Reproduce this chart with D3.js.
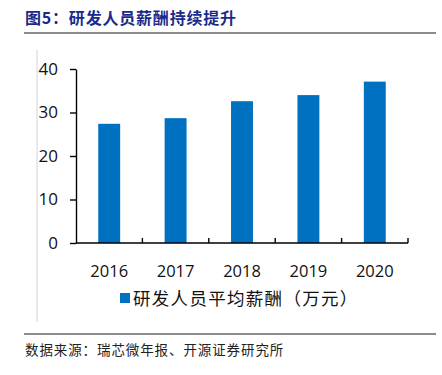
<!DOCTYPE html>
<html>
<head>
<meta charset="utf-8">
<script src="https://cdn.jsdelivr.net/npm/d3@7"></script>
<style>
  body { margin: 0; background: #fff; }
  svg { display: block; }
</style>
</head>
<body>
<svg width="442" height="375"></svg>
<script>
// chart data
const years = ["2016", "2017", "2018", "2019", "2020"];
const salary = [27.4, 28.7, 32.6, 34.0, 37.1];
const yTicks = [0, 10, 20, 30, 40];
const seriesName = "研发人员平均薪酬（万元）";

const svg = d3.select("svg");
const cjk = "'Noto Sans CJK SC', sans-serif";
const num = "'Open Sans', sans-serif";

// title + rules
svg.append("text")
    .attr("x", 25).attr("y", 24)
    .style("font", "bold 16px " + cjk)
    .style("letter-spacing", "0.8px")
    .attr("fill", "#1b2a8a")
    .text("图5：研发人员薪酬持续提升");

svg.append("line")
    .attr("x1", 24).attr("x2", 436).attr("y1", 33).attr("y2", 33)
    .attr("stroke", "#8c8c8c").attr("stroke-width", 2);
svg.append("line")
    .attr("x1", 24).attr("x2", 436).attr("y1", 334).attr("y2", 334)
    .attr("stroke", "#8c8c8c").attr("stroke-width", 2);

// faint frame line on the left
svg.append("line")
    .attr("x1", 37).attr("x2", 37).attr("y1", 50).attr("y2", 322)
    .attr("stroke", "#d4d4d4").attr("stroke-width", 1);

// scales
const x = d3.scaleBand()
    .domain(years)
    .range([76, 408])
    .paddingInner(0.67)
    .paddingOuter(0.335);

const y = d3.scaleLinear()
    .domain([0, 40])
    .range([243, 69]);

// bars
svg.append("g")
    .selectAll("rect")
    .data(years)
    .join("rect")
    .attr("x", d => x(d))
    .attr("width", x.bandwidth())
    .attr("y", (d, i) => y(salary[i]))
    .attr("height", (d, i) => y(0) - y(salary[i]))
    .attr("fill", "#0070c0");

// y axis
const yAxis = svg.append("g")
    .attr("transform", "translate(76,0)")
    .call(d3.axisLeft(y).tickValues(yTicks).tickSize(6).tickSizeOuter(0).tickPadding(12));
yAxis.select(".domain").attr("stroke", "#000").attr("stroke-width", 1.4);
yAxis.selectAll(".tick line").attr("stroke", "#000").attr("stroke-width", 1.4);
yAxis.selectAll("text")
    .style("font", "17px " + num)
    .attr("fill", "#111");

// x axis
const xAxis = svg.append("g")
    .attr("transform", "translate(0,243)")
    .call(d3.axisBottom(x).tickSize(0).tickSizeOuter(0));
xAxis.select(".domain").remove();
xAxis.selectAll("text")
    .attr("y", 34).attr("dy", 0)
    .style("font", "16.5px " + num)
    .attr("fill", "#111");

svg.append("line")
    .attr("x1", 76).attr("x2", 408).attr("y1", 243).attr("y2", 243)
    .attr("stroke", "#000").attr("stroke-width", 1.4);

// inward ticks at category boundaries
const step = x.step();
svg.append("g")
    .selectAll("line")
    .data(d3.range(1, years.length + 1))
    .join("line")
    .attr("x1", i => 76 + i * step).attr("x2", i => 76 + i * step)
    .attr("y1", 243).attr("y2", 238)
    .attr("stroke", "#000").attr("stroke-width", 1.4);

// legend
svg.append("rect")
    .attr("x", 120).attr("y", 293)
    .attr("width", 10).attr("height", 10)
    .attr("fill", "#0070c0");
svg.append("text")
    .attr("x", 133).attr("y", 305)
    .style("font", "17.5px " + cjk)
    .style("letter-spacing", "1.3px")
    .attr("fill", "#111")
    .text(seriesName);

// source note
svg.append("text")
    .attr("x", 25).attr("y", 355)
    .style("font", "13.5px " + cjk)
    .style("letter-spacing", "0.9px")
    .attr("fill", "#222")
    .text("数据来源：瑞芯微年报、开源证券研究所");
</script>
</body>
</html>
